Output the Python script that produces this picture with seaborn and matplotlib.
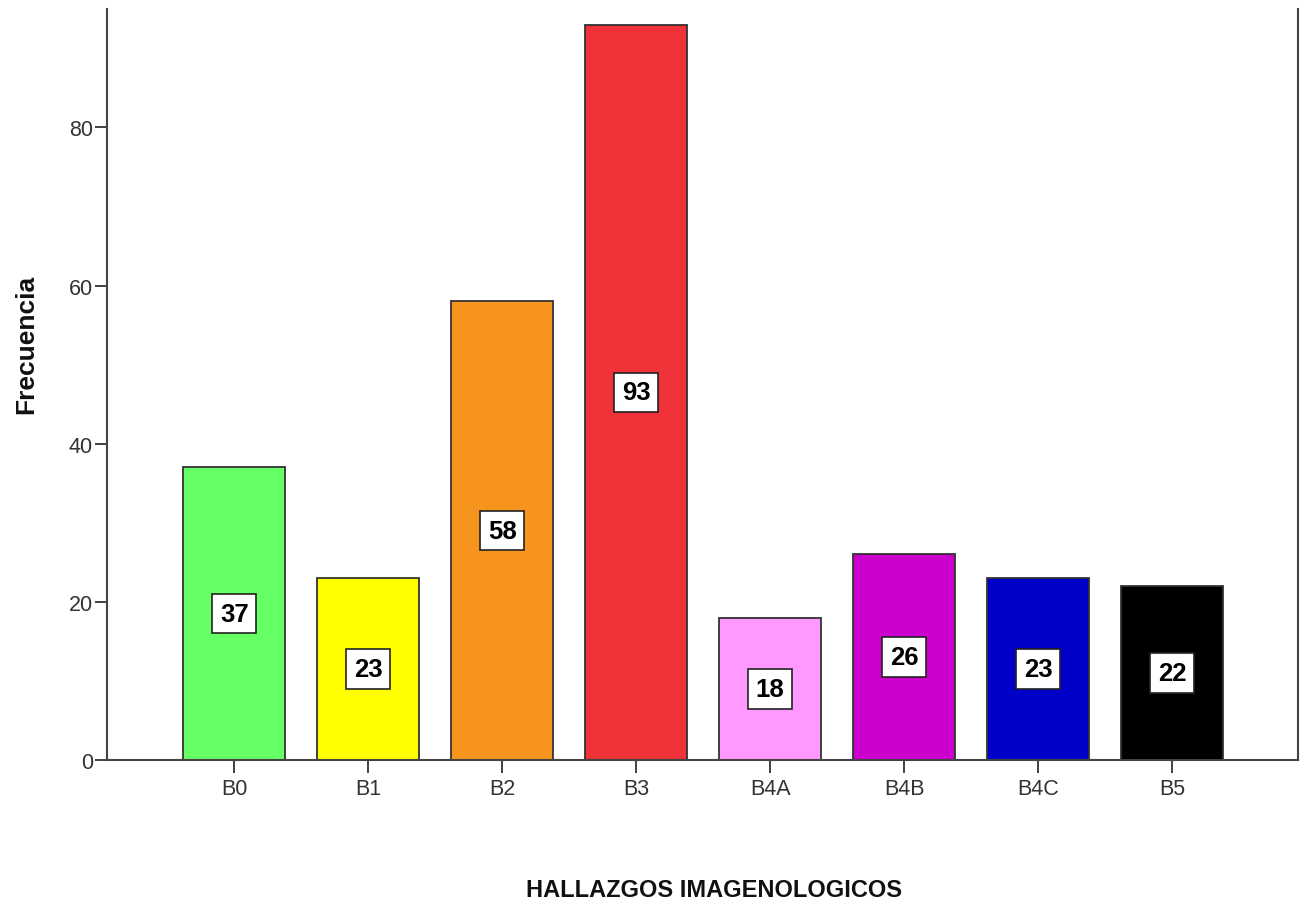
import matplotlib
matplotlib.use("Agg")
import matplotlib.pyplot as plt
import seaborn as sns
import pandas as pd

categories = ["B0", "B1", "B2", "B3", "B4A", "B4B", "B4C", "B5"]
frecuencia = [37, 23, 58, 93, 18, 26, 23, 22]
bar_colors = ["#66FF66", "#FFFF00", "#F7941D", "#EF3338",
              "#FF99FF", "#CC00CC", "#0000C8", "#000000"]
y_ticks = [0, 20, 40, 60, 80]

sns.set_theme(style="white")
plt.rcParams["font.family"] = ["Liberation Sans", "DejaVu Sans"]

df = pd.DataFrame({"categoria": categories, "frecuencia": frecuencia})

fig = plt.figure(figsize=(13.06, 9.04), dpi=100)
ax = fig.add_axes([0.0819, 0.1582, 0.912, 0.831])

sns.barplot(data=df, x="categoria", y="frecuencia", hue="categoria",
            palette=bar_colors, order=categories, hue_order=categories,
            width=0.76, saturation=1, edgecolor="#333333", linewidth=1.3,
            legend=False, ax=ax)

for i, v in enumerate(frecuencia):
    ax.text(i, v / 2, str(v), ha="center", va="center",
            fontsize=18.5, fontweight="bold", color="black",
            bbox=dict(boxstyle="square,pad=0.3", facecolor="white",
                      edgecolor="#222222", linewidth=1.2))

ax.set_xlim(-0.95, 7.94)
ax.set_ylim(0, 95)
ax.set_yticks(y_ticks)

for side in ["left", "bottom", "right"]:
    ax.spines[side].set_visible(True)
    ax.spines[side].set_color("#444444")
    ax.spines[side].set_linewidth(1.5)
ax.spines["top"].set_visible(False)

ax.tick_params(axis="both", which="both", direction="out", length=9,
               width=1.3, color="#333333", labelsize=15.5, labelcolor="#333333",
               left=True, bottom=True)
ax.tick_params(axis="y", pad=1)
ax.tick_params(axis="x", pad=4)

ax.set_ylabel("Frecuencia", fontsize=19, fontweight="bold", color="#111111")
ax.yaxis.set_label_coords(-0.058, 0.554)
ax.set_xlabel("HALLAZGOS IMAGENOLOGICOS", fontsize=17, fontweight="bold",
              color="#111111")
ax.xaxis.set_label_coords(0.51, -0.157)

fig.savefig("out.png", dpi=100, facecolor="white")
